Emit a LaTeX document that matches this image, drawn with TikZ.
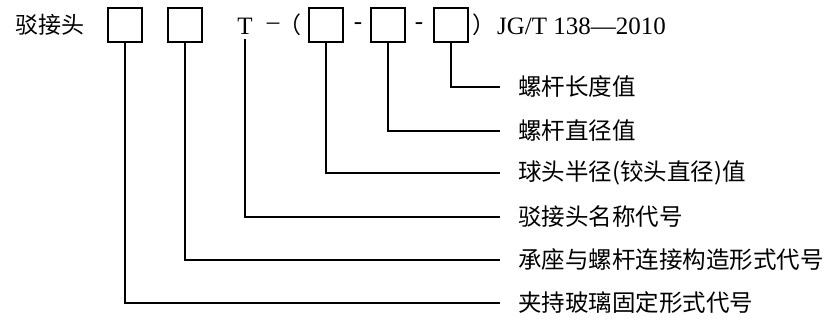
\documentclass[tikz,border=0pt]{standalone}
\usepackage{fontspec}
\newfontfamily\cjk{Noto Sans CJK SC}
\newfontfamily\lat[Ligatures=TeX]{Liberation Serif}
\usepackage{tikz}

\begin{document}
\begin{tikzpicture}[x=1pt, y=-1pt,
		feld/.style={draw, line width=1.3pt, minimum size=34pt, inner sep=0pt},
		zeichen/.style={inner sep=0pt, font=\lat\fontsize{25}{25}\selectfont},
		erkl/.style={anchor=west, inner sep=0pt, font=\cjk\fontsize{23.5}{23.5}\selectfont},
		linie/.style={line width=1.3pt, shorten >=18pt}]
			\useasboundingbox (0,0) rectangle (839,325);
			% obere Zeile
			\node[zeichen, font=\cjk\fontsize{23}{23}\selectfont] (titel) at (50,25) {驳接头};
			\node[feld] (f1) at (125,25) {};
			\node[feld] (f2) at (185,25) {};
			\node[zeichen] (t) at (245,26) {T};
			\node[zeichen] (s1) at (273,26) {--};
			\node[zeichen, font=\cjk\fontsize{23}{23}\selectfont] (k1) at (290,25) {（};
			\node[feld] (f3) at (326,25) {};
			\node[zeichen] (s2) at (358,26) {-};
			\node[feld] (f4) at (388,25) {};
			\node[zeichen] (s3) at (419,26) {-};
			\node[feld] (f5) at (451,25) {};
			\node[zeichen, font=\cjk\fontsize{23}{23}\selectfont] (k2) at (484,25) {）};
			\node[zeichen, anchor=west] (norm) at (497,26) {JG/T 138---2010};
			% Erklaerungen
			\node[erkl] (e1) at (518,87) {螺杆长度值};
			\node[erkl] (e2) at (518,131) {螺杆直径值};
			\node[erkl] (e3) at (518,173) {球头半径(铰头直径)值};
			\node[erkl] (e4) at (518,217) {驳接头名称代号};
			\node[erkl] (e5) at (518,260) {承座与螺杆连接构造形式代号};
			\node[erkl] (e6) at (518,303) {夹持玻璃固定形式代号};
			\draw[linie] (f5.south) |- (e1.west);
			\draw[linie] (f4.south) |- (e2.west);
			\draw[linie] (f3.south) |- (e3.west);
			\draw[linie] ([yshift=-5pt]t.south) |- (e4.west);
			\draw[linie] (f2.south) |- (e5.west);
			\draw[linie] (f1.south) |- (e6.west);
		\end{tikzpicture}
\end{document}
